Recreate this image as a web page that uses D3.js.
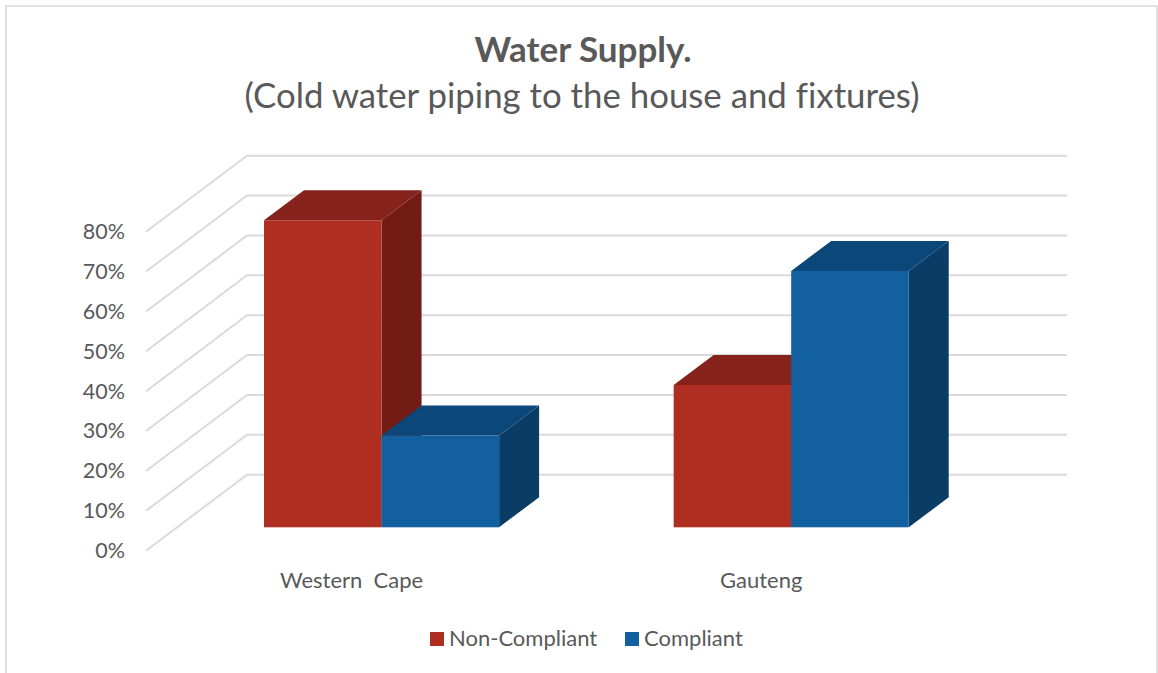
<!DOCTYPE html>
<html>
<head>
<meta charset="utf-8">
<script src="https://d3js.org/d3.v7.min.js"></script>
<style>
  html, body { margin: 0; padding: 0; background: #fff; }
  svg { display: block; }
  text { font-family: Lato, "Open Sans", sans-serif; fill: #595959; white-space: pre; font-variant-ligatures: none; }
  .domain { display: none; }
  .tick line { display: none; }
</style>
</head>
<body>
<svg id="drawing_region"></svg>
<script>
const categories = [ "Western  Cape", "Gauteng" ];
const series = [ "Non-Compliant", "Compliant" ];
const nonCompliant = [ 77, 35.7 ];
const compliant = [ 23, 64.3 ];
const tickValues = [ 0, 10, 20, 30, 40, 50, 60, 70, 80 ];

const width = 1158, height = 673;

const colors = {
    "Non-Compliant": { front: "#ae2f21", top: "#84221b", side: "#721c15" },
    "Compliant": { front: "#12609f", top: "#0c4779", side: "#0a3d66" }
};

const svg = d3.select( "#drawing_region" )
    .attr( "width", width )
    .attr( "height", height );

// chart border, the bottom edge is cropped in the original
svg.append( "path" )
    .attr( "d", `M6,${height} V6 H1157 V${height}` )
    .attr( "fill", "none" )
    .attr( "stroke", "#d9d9d9" )
    .attr( "stroke-width", 1.6 );

// title
svg.append( "text" )
    .attr( "x", 583 ).attr( "y", 62 )
    .attr( "text-anchor", "middle" )
    .attr( "font-size", 35 ).attr( "font-weight", 700 )
    .text( "Water Supply." );
svg.append( "text" )
    .attr( "x", 582 ).attr( "y", 108 )
    .attr( "text-anchor", "middle" )
    .attr( "font-size", 34.8 )
    .text( "(Cold water piping to the house and fixtures)" );

// y scale lives on the front edge of the walls
const yscale = d3.scaleLinear()
    .domain( [ 0, 80 ] )
    .range( [ 550.7, 231.7 ] );

const wall = { dx: 101, dy: -76, right: 1067, left: 146 };
const bar = { dx: 40, dy: -30, floor: -23.4 };

const grid = svg.append( "g" );
grid.selectAll( "path" )
    .data( tickValues )
    .join( "path" )
    .attr( "d", d => `M${wall.left},${yscale( d )} L${wall.left + wall.dx},${yscale( d ) + wall.dy} H${wall.right}` )
    .attr( "fill", "none" )
    .attr( "stroke", "#dadada" )
    .attr( "stroke-width", 2 );

const yaxis = d3.axisLeft( yscale )
    .tickValues( tickValues )
    .tickFormat( d => d + "%" )
    .tickSize( 0 )
    .tickPadding( 0 );

svg.append( "g" )
    .attr( "transform", "translate(125, 0)" )
    .call( yaxis )
    .call( g => g.selectAll( "text" ).attr( "font-size", 21.5 ).style( "font-family", "Lato" ).attr( "fill", "#595959" ) );

// x scales, one band per region and one per series inside it
const groupPadding = 1 - 235 / 409.5;
const x0 = d3.scaleBand()
    .domain( categories )
    .range( [ 176.75, 996 ] )
    .paddingInner( groupPadding )
    .paddingOuter( groupPadding / 2 );

const x1 = d3.scaleBand()
    .domain( series )
    .range( [ 0, x0.bandwidth() ] );

const rows = [];
categories.forEach( ( c, i ) => {
    rows.push( { category: c, name: series[ 0 ], value: nonCompliant[ i ] } );
    rows.push( { category: c, name: series[ 1 ], value: compliant[ i ] } );
} );

const bars = svg.selectAll( ".bar" )
    .data( rows )
    .join( "g" )
    .attr( "class", "bar" );

const barGeom = d => {
    const x = x0( d.category ) + x1( d.name );
    const w = x1.bandwidth();
    const yb = yscale( 0 ) + bar.floor;
    const yt = yscale( d.value ) + bar.floor;
    return { x, w, yb, yt };
};

bars.append( "path" )
    .attr( "fill", d => colors[ d.name ].side )
    .attr( "d", d => {
        const g = barGeom( d );
        return `M${g.x + g.w},${g.yt} l${bar.dx},${bar.dy} V${g.yb + bar.dy} L${g.x + g.w},${g.yb} Z`;
    } );

bars.append( "path" )
    .attr( "fill", d => colors[ d.name ].top )
    .attr( "d", d => {
        const g = barGeom( d );
        return `M${g.x},${g.yt} l${bar.dx},${bar.dy} h${g.w} l${-bar.dx},${-bar.dy} Z`;
    } );

bars.append( "rect" )
    .attr( "fill", d => colors[ d.name ].front )
    .attr( "x", d => barGeom( d ).x )
    .attr( "y", d => barGeom( d ).yt )
    .attr( "width", d => barGeom( d ).w )
    .attr( "height", d => barGeom( d ).yb - barGeom( d ).yt );

// category labels sit left of the bars because of the 3d shift
const xaxis = d3.axisBottom( x0 )
    .tickSize( 0 )
    .tickPadding( 0 );

svg.append( "g" )
    .attr( "transform", "translate(-30, 572)" )
    .call( xaxis )
    .call( g => g.selectAll( "text" ).attr( "font-size", 22 ).style( "font-family", "Lato" ).attr( "fill", "#595959" ) );

// legend
const legendX = d3.scaleOrdinal().domain( series ).range( [ 430, 625 ] );
const legend = svg.selectAll( ".legend" )
    .data( series )
    .join( "g" )
    .attr( "class", "legend" )
    .attr( "transform", d => `translate(${legendX( d )}, 632)` );

legend.append( "rect" )
    .attr( "width", 14 ).attr( "height", 14 )
    .attr( "fill", d => colors[ d ].front );

legend.append( "text" )
    .attr( "x", 19 ).attr( "y", 14 )
    .attr( "font-size", 22 )
    .text( d => d );
</script>
</body>
</html>
